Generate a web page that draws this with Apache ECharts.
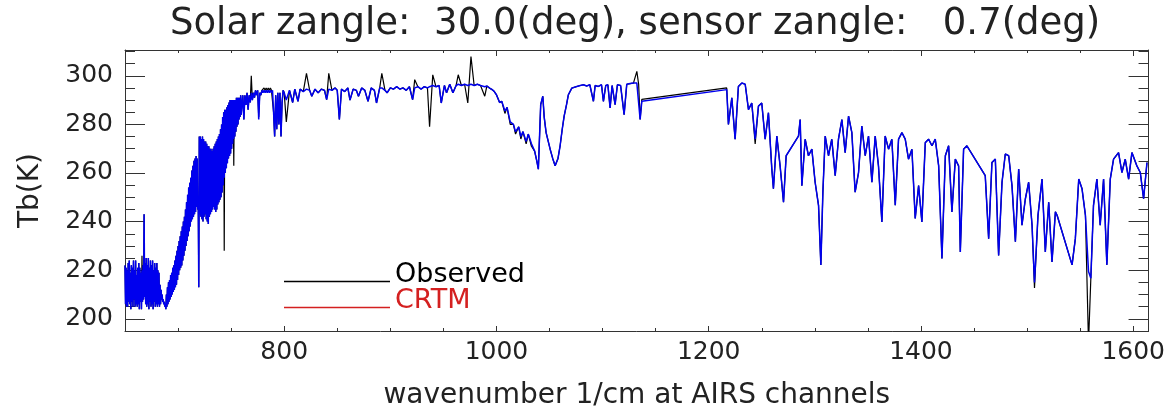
<!DOCTYPE html>
<html><head><meta charset="utf-8">
<script src="https://cdn.jsdelivr.net/npm/echarts@6/dist/echarts.min.js"></script>
<style>html,body{margin:0;padding:0;background:#fff}#c{width:1168px;height:415px}</style>
</head><body><div id="c"></div>
<script>
// ---- data ----
const wavenumber = [
650,650.5,651,651.5,652,652.5,653,653.5,654,654.5,
655,655.5,656,656.5,657,657.5,658,658.5,659,659.5,
660,660.5,661,661.5,662,662.5,663,663.5,664,664.5,
665,665.5,666,666.5,667,667.5,668,668.5,669,669.5,
670,670.5,671,671.5,672,672.5,673,673.5,674,674.5,
675,675.5,676,676.5,677,677.5,678,678.5,679,679.5,
680,680.5,681,681.5,682,682.5,683,683.5,684,684.5,
685,685.5,686,686.5,687,687.5,688,688.5,689,689.5,
690,690.5,691,691.5,692,692.5,693,693.5,694,694.5,
695,695.5,696,696.5,697,697.5,698,698.5,699,699.5,
700,700.5,701,701.5,702,702.5,703,703.5,704,704.5,
705,705.5,706,706.5,707,707.5,708,708.5,709,709.5,
710,710.5,711,711.5,712,712.5,713,713.5,714,714.5,
715,715.5,716,716.5,717,717.5,718,718.5,719,719.5,
720,720.5,721,721.5,722,722.5,723,723.5,724,724.5,
725,725.5,726,726.5,727,727.5,728,728.5,729,729.5,
730,730.5,731,731.5,732,732.5,733,733.5,734,734.5,
735,735.5,736,736.5,737,737.5,738,738.5,739,739.5,
740,740.5,741,741.5,742,742.5,743,743.5,744,744.5,
745,745.5,746,746.5,747,747.5,748,748.5,749,749.5,
750,750.5,751,751.5,752,752.5,753,753.5,754,754.5,
755,755.5,756,756.5,757,757.5,758,758.5,759,759.5,
760,761,762,763,764,765,766,767,768,769,
770,771,772,773,774,775,776,777,778,779,
780,781,782,783,784,785,786,787,788,789,
790,791,792,793,794,795,796,797,798,799,
800,
802,805,808,810,813,815,818,821,824,826,
829,832,835,838,840,842,845,848,850,852,
854,857,860,862,865,868,870,873,876,879,
882,885,887,890,892,895,897,900,903,906,
909,912,915,918,921,923,926,929,932,935,
937,940,943,946,948,951,953,956,959,962,
964,967,970,973,976,979,982,985,989,991,
994,996,998,1000,1003,1005,1008,1010,1013,1016,
1018,1021,1023,1025,1028,1030,1033,1036,1038,1039.5,
1041.7,1043.7,1045,1046.8,1050.6,1053,1055.3,1058,1060,1062,
1063.8,1066,1067.8,1071,1075.7,1079,1082,1085,1088,1091.4,
1093,1096,1099,1100.8,1103,1105,1107.1,1109,1111.8,1114,
1117,1120.3,1122.8,1126,1129.1,1132.3,1134,1135.4,1137,
1217,1218.6,1221.8,1224.9,1228,1231.2,1234.4,1237.5,1240.6,1243.8,
1246.9,1250,1253.2,1256.3,1259.5,1261,1264.2,1267.3,1270.5,1273,
1284.6,1286.2,1287.8,1290.9,1294,1297.2,1300.3,1303.5,1305.7,1307.6,
1309.8,1312.9,1316,1319.2,1322.3,1325.5,1328.6,1331.8,1334.9,1338,
1341.2,1344.3,1347.5,1350.6,1353.8,1356.9,1360,1363.2,1366.3,1369.5,
1372.6,1375.8,1378.9,1382.1,1385.2,1388.3,1391.5,1394.6,1397.8,1400.9,
1404.1,1407.2,1410.4,1413.5,1416.7,1419.8,1423,1426.1,1429.2,1432.4,
1435.5,1437.1,1440.2,1443.3,1460.6,1463.8,1466.9,1470.1,1473.2,1476.4,
1479.5,1482.7,1485.8,1489,1492.1,1495.2,1498.4,1501.5,1504.7,1507,
1510.3,1514.1,1517.2,1520.4,1523.5,1526.7,1528.3,1542.4,1545.5,1548.7,
1551.8,1555,1557.9,1560.1,1562.6,1565.8,1568.9,1572.1,1575.2,1578.4,
1581.5,1586.2,1589.4,1592.5,1595.7,1598.8,1603.5,1606.7,1609.8,1613
];

const observedTb = [
222,206,221,205,220,205,223,207,224,206,
219,204,222,207,221,205,224,208,220,205,
224,206,218,205,221,206,223,204,221,207,
219,204,226,207,222,208,243,209,223,206,
225,205,222,206,225,204,221,207,224,205,
222,206,224,204,220,207,223,205,221,206,
223,205,220,206,219,205,214,206,212,208,
210,207,208,206,207,205,206,204,210,205,
213,206,215,207,216,208,218,209,219,210,
221,211,222,212,224,213,226,214,228,216,
230,218,232,220,234,221,236,222,238,224,
240,226,242,228,245,230,248,232,251,234,
254,236,256,238,258,240,261,241,263,242,
265,243,266,244,267,246,266,245,250,213,
275,243,275,242,274,241,275,240,274,242,
273,243,273,241,272,240,271,239,271,242,
270,243,270,244,269,245,270,246,271,245,
272,244,273,245,274,247,275,248,276,249,
278,250,280,252,283,255,285,228,286,260,
286,262,287,264,288,266,289,267,290,268,
290,270,290,272,290,263,290,275,290,277,
291,279,291,280,291,282,291,283,292,284,
287,292,282,292,288,293,286,292,289,300,
290,293,291,294,292,294,283,293,292,294,
294,295,294,295,294,295,294,295,294,294,
285,275,292,278,293,280,293,275,289,294,
293,
281,294,289,294.5,289.5,294.5,293.5,301,294,291.6,
294.5,293,294.5,294,290.2,301,294,295,294,282,
294.5,293.5,295,290,294.5,294,291.6,295,294,289.5,
295,294,288.8,295,301,294,293,295,294.5,295.5,
294.5,295,294,295.5,290.2,298.4,295.5,294.5,295.5,295,
279,300.4,295.5,296,288.8,296,293,296.5,293,296,
300.4,296,296.5,288.8,307.9,296,296.5,296,291.6,295.8,
294.8,294.3,293.5,292.2,289,289.5,284.5,287,280,280,
276,279,274,277,272,276,271,269,265,261.6,
288.1,291.6,283,276.6,269.8,266,263,266,271.2,278,
283.4,288,292.2,294.9,295.6,296,296.3,295.8,296.3,289.5,
296,295.6,296.3,289.5,296,296.3,286.8,296,288.1,296.3,
296,284,296.5,296.8,297,301.8,296.5,282,290.3,
295,280,290.9,273.9,295.6,297,296.5,286.1,288.8,272,
287.5,288.8,273.9,284.8,261.6,253.5,275.2,262.9,248,267.1,
275.2,282,254.8,273.9,267.1,269.8,256.2,246.7,222.2,252.1,
275.2,267.1,273.9,258.9,273.9,282,268.4,283.4,276.6,252.1,
260.2,279.3,267.1,275.2,256.2,275.2,262.9,239.9,275.2,269.8,
273.9,246.7,273.9,276.6,273.9,265.7,269.8,241.3,254.8,239.9,
272.5,273.9,271.2,273.9,262.9,224.8,267.1,271.2,244,265.7,
262.9,227.5,269.8,271.2,258.9,233,264.3,265.7,226.1,256.2,
267.8,267.1,254.8,231.7,261.6,238.5,249.4,256.2,238.5,212.7,
242.6,257.5,227.5,248,223.4,244,242.6,222.2,233,257.5,
253.5,242.6,190,216.7,246.7,257.5,238.5,257.5,222.2,257.5,
265.7,268.4,260.2,265.7,257.5,268.4,262.9,260.2,249.4,264.3
];

const crtmTb = [
222,206,221,205,220,205,223,207,224,206,
219,204,222,207,221,205,224,208,220,205,
224,206,218,205,221,206,223,204,221,207,
219,204,220,207,222,208,243,209,223,206,
225,205,222,206,225,204,221,207,224,205,
222,206,224,204,220,207,223,205,221,206,
223,205,220,206,219,205,214,206,212,208,
210,207,208,206,207,205,206,204,210,205,
213,206,215,207,216,208,218,209,219,210,
221,211,222,212,224,213,226,214,228,216,
230,218,232,220,234,221,236,222,238,224,
240,226,242,228,245,230,248,232,251,234,
254,236,256,238,258,240,261,241,263,242,
265,243,266,244,267,246,266,245,250,213,
275,243,275,242,274,241,275,240,274,242,
273,243,273,241,272,240,271,239,271,242,
270,243,270,244,269,245,270,246,271,245,
272,244,273,245,274,247,275,248,276,249,
278,250,280,252,283,255,285,258,286,260,
286,262,287,264,288,266,289,267,290,268,
290,270,290,272,290,274,290,275,290,277,
291,279,291,280,291,282,291,283,292,284,
287,292,282,292,288,293,286,292,289,293,
290,293,291,294,292,294,282,293,292,294,
293,294,293,294,293,294,293,294,293,294,
285,275,292,278,293,280,293,275,289,294,
293,
290,294,289,294.5,289.5,294.5,293.5,294.5,294,291.6,
294.5,293,294.5,294,290.2,294.5,294,295,294,282,
294.5,293.5,295,290,294.5,294,291.6,295,294,289.5,
295,294,288.8,295,295,294,293,295,294.5,295.5,
294.5,295,294,295.5,290.2,295,295.5,294.5,295.5,295,
295.5,296,295.5,296,288.8,296,293,296.5,293,296,
296.5,296,296.5,296,296.5,296,296.5,296,295.5,295.8,
294.8,294.3,293.5,292.2,289,289.5,285.5,287,281,280,
277,279,275,277,273,276,272,269,265,261.6,
288.1,291.6,283,276.6,269.8,266,263,266,271.2,278,
283.4,288,292.2,294.9,295.6,296,296.3,295.8,296.3,289.5,
296,295.6,296.3,289.5,296,296.3,286.8,296,288.1,296.3,
296,284,296.5,296.8,297,297,296.5,282,289.5,
294.3,280,290.9,273.9,295.6,297,296.5,286.1,288.8,273.9,
287.5,288.8,273.9,284.8,261.6,253.5,275.2,262.9,248,267.1,
275.2,282,254.8,273.9,267.1,269.8,256.2,246.7,222.2,252.1,
275.2,267.1,273.9,258.9,273.9,282,268.4,283.4,276.6,252.1,
260.2,279.3,267.1,275.2,256.2,275.2,262.9,239.9,275.2,269.8,
273.9,246.7,273.9,276.6,273.9,265.7,269.8,241.3,254.8,239.9,
272.5,273.9,271.2,273.9,262.9,224.8,267.1,271.2,244,265.7,
262.9,227.5,269.8,271.2,258.9,233,264.3,265.7,226.1,256.2,
267.8,267.1,254.8,231.7,261.6,238.5,249.4,256.2,238.5,215,
242.6,257.5,227.5,248,223.4,244,242.6,222.2,233,257.5,
253.5,242.6,219.5,216.7,246.7,257.5,238.5,257.5,222.2,257.5,
265.7,268.4,260.2,265.7,257.5,268.4,262.9,260.2,249.4,264.3
];

const xTickValues = [800, 1000, 1200, 1400, 1600];
const yTickValues = [200, 220, 240, 260, 280, 300];
const seriesNames = ['Observed', 'CRTM'];
const titleText = 'Solar zangle:  30.0(deg), sensor zangle:   0.7(deg)';
const xAxisTitle = 'wavenumber 1/cm at AIRS channels';
const yAxisTitle = 'Tb(K)';

// ---- chart ----
const FONT = 'DejaVu Sans';
const TXT = '#222';
const AX = '#333';
const X_MIN = 650, X_MAX = 1614.5, Y_MIN = 195, Y_MAX = 310.6;

const obsData = wavenumber.map((w, i) => [w, observedTb[i]]);
const crtmData = wavenumber.map((w, i) => [w, crtmTb[i]]);
const plain = v => String(v);

function xAxis(pos, major, withLabels) {
  const a = {
    type: 'value', position: pos, min: X_MIN, max: X_MAX,
    axisLine: { show: true, onZero: false, lineStyle: { color: AX, width: 1 } },
    splitLine: { show: false },
    axisTick: { show: true, inside: true, lineStyle: { color: AX, width: 1 } },
    axisLabel: { show: false }
  };
  if (major) {
    a.axisTick.customValues = xTickValues;
    a.axisTick.length = pos === 'top' ? 6 : 5;
    if (withLabels) {
      a.axisLabel = { show: true, customValues: xTickValues, formatter: plain, margin: 9,
        fontSize: 25, color: TXT, fontFamily: FONT };
      a.name = xAxisTitle; a.nameLocation = 'middle'; a.nameGap = 51;
      a.nameTextStyle = { fontSize: 28, color: TXT, fontFamily: FONT };
    }
  } else {
    a.interval = 50; a.axisTick.length = 3; a.axisLine.show = false;
  }
  return a;
}
function yAxis(pos, major, withLabels) {
  const a = {
    type: 'value', position: pos, min: Y_MIN, max: Y_MAX,
    axisLine: { show: true, onZero: false, lineStyle: { color: AX, width: 1 } },
    splitLine: { show: false },
    axisTick: { show: true, inside: true, lineStyle: { color: AX, width: 1 } },
    axisLabel: { show: false }
  };
  if (major) {
    a.axisTick.customValues = yTickValues;
    a.axisTick.length = 20;
    if (withLabels) {
      a.axisLabel = { show: true, customValues: yTickValues, formatter: plain, margin: 12,
        fontSize: 25, color: TXT, fontFamily: FONT };
      a.name = yAxisTitle; a.nameLocation = 'middle'; a.nameGap = 80;
      a.nameTextStyle = { fontSize: 28, color: TXT, fontFamily: FONT };
    }
  } else {
    a.interval = 5; a.axisTick.length = 10; a.axisLine.show = false;
  }
  return a;
}

const legendBase = {
  orient: 'vertical', left: 284, icon: 'rect', itemWidth: 106, itemHeight: 1.5,
  padding: 0, selectedMode: false,
  formatter: '{name}\n',
  textStyle: { fontSize: 27, fontFamily: FONT, lineHeight: 14 }
};

const option = {
  animation: false,
  backgroundColor: '#fff',
  title: {
    text: titleText, left: 170, top: 6, padding: 0,
    textStyle: { fontSize: 37, fontWeight: 'normal', color: TXT, fontFamily: FONT }
  },
  legend: [
    Object.assign({}, legendBase, { top: 261,
      data: [{ name: seriesNames[0], itemStyle: { color: '#000' }, textStyle: { color: '#000' } }] }),
    Object.assign({}, legendBase, { top: 287,
      data: [{ name: seriesNames[1], itemStyle: { color: '#d42020' }, textStyle: { color: '#d42020' } }] })
  ],
  grid: { left: 125, right: 19, top: 50, bottom: 82, containLabel: false },
  xAxis: [xAxis('bottom', true, true), xAxis('bottom', false), xAxis('top', true, false), xAxis('top', false)],
  yAxis: [yAxis('left', true, true), yAxis('left', false), yAxis('right', true, false), yAxis('right', false)],
  series: [
    { name: seriesNames[0], type: 'line', data: obsData, xAxisIndex: 0, yAxisIndex: 0,
      symbol: 'none', showSymbol: false, clip: true, z: 2,
      lineStyle: { color: '#000', width: 1.2 }, itemStyle: { color: '#000' } },
    { name: seriesNames[1], type: 'line', data: crtmData, xAxisIndex: 0, yAxisIndex: 0,
      symbol: 'none', showSymbol: false, clip: true, z: 3,
      lineStyle: { color: '#0000ee', width: 1.5 }, itemStyle: { color: '#0000ee' } }
  ]
};

const chart = echarts.init(document.getElementById('c'), null, { renderer: 'canvas' });
chart.setOption(option);
</script>
</body></html>
